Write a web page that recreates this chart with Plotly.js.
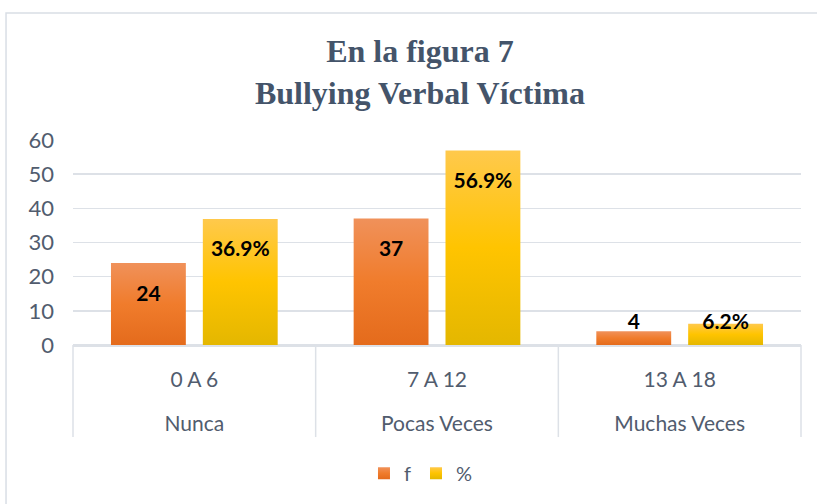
<!DOCTYPE html>
<html>
<head>
<meta charset="utf-8">
<script src="https://cdn.plot.ly/plotly-3.0.1.min.js"></script>
<style>html,body{margin:0;padding:0;background:#fff;}#chart{width:817px;height:504px;}</style>
</head>
<body>
<div id="chart"></div>
<script>
// Data
const outerLabels = ["Nunca", "Pocas Veces", "Muchas Veces"];
const innerLabels = ["0 A 6", "7 A 12", "13 A 18"];
const fValues = [24, 37, 4];
const pctValues = [36.9, 56.9, 6.2];
const seriesNames = ["f", "%"];

const axisColor = "#515C6E";
const gridColor = "#DDE1E7";

const labelFont = {family: "Lato", size: 21, color: "#000", weight: "bold"};

const traces = [
  {
    type: "bar",
    name: seriesNames[0],
    x: [outerLabels, innerLabels],
    y: fValues,
    marker: {color: "#EE7D31"},
    texttemplate: "%{y}",
    textposition: "auto",
    insidetextanchor: "end",
    textfont: labelFont,
    cliponaxis: false
  },
  {
    type: "bar",
    name: seriesNames[1],
    x: [outerLabels, innerLabels],
    y: pctValues,
    marker: {color: "#FFC000"},
    texttemplate: "%{y:.1f}%",
    textposition: "auto",
    insidetextanchor: "end",
    textfont: labelFont,
    cliponaxis: false
  }
];

const layout = {
  width: 817, height: 504,
  margin: {l: 73, r: 16, t: 140, b: 159},
  paper_bgcolor: "#fff", plot_bgcolor: "#fff",
  font: {family: "Lato", color: axisColor},
  title: {
    text: "En la figura 7<br>Bullying Verbal Víctima",
    font: {family: "Liberation Serif", size: 32, color: "#44546A", weight: "bold"},
    x: 0.514, xanchor: "center", y: 0.876, yanchor: "middle", yref: "container"
  },
  barmode: "group",
  bargap: 0.243,
  bargroupgap: 0.185,
  showlegend: true,
  legend: {
    orientation: "h", x: 0.478, xanchor: "center", y: -0.625, yanchor: "middle",
    font: {family: "Lato", size: 20, color: axisColor}, traceorder: "normal",
    itemwidth: 30
  },
  xaxis: {
    type: "multicategory",
    showdividers: false,
    showline: true, linecolor: gridColor, linewidth: 1.5,
    tickfont: {family: "Lato", size: 21, color: axisColor},
    ticks: "outside", ticklen: 17, tickcolor: "rgba(0,0,0,0)",
    ticklabelstandoff: 15,
    showgrid: false, zeroline: false
  },
  yaxis: {
    range: [0, 60], dtick: 10, tick0: 0,
    showgrid: true, gridcolor: gridColor, gridwidth: 1.5,
    zeroline: true, zerolinecolor: gridColor, zerolinewidth: 1.5,
    tickfont: {family: "Lato", size: 22, color: axisColor},
    ticks: "", ticklabelstandoff: 18, showline: false
  },
  shapes: [
    {type: "rect", xref: "paper", yref: "paper", x0: -0.092, x1: 1.2, y0: -1.5, y1: 1.62,
     line: {color: "#D9DEE5", width: 1.5}, fillcolor: "rgba(0,0,0,0)", layer: "below"}
  ].concat([0, 1, 2, 3].map(function (k) {
    // category group dividers at the boundaries of the three equal category bands
    return {type: "line", xref: "paper", yref: "paper", x0: k / 3, x1: k / 3, y0: 0, y1: -0.449,
            line: {color: gridColor, width: 1.5}};
  }))
};

Plotly.newPlot("chart", traces, layout, {staticPlot: true}).then(function (gd) {
  const svg = gd.querySelector("svg.main-svg");
  const ns = "http://www.w3.org/2000/svg";
  const defs = document.createElementNS(ns, "defs");
  const grads = [
    {id: "gradF", stops: [["0%", "#F0915A"], ["50%", "#F07C2C"], ["100%", "#E46B1C"]]},
    {id: "gradP", stops: [["0%", "#FFC94C"], ["50%", "#FFC400"], ["100%", "#E4B700"]]}
  ];
  grads.forEach(function (g) {
    const lg = document.createElementNS(ns, "linearGradient");
    lg.setAttribute("id", g.id);
    lg.setAttribute("x1", "0"); lg.setAttribute("y1", "0");
    lg.setAttribute("x2", "0"); lg.setAttribute("y2", "1");
    g.stops.forEach(function (s) {
      const st = document.createElementNS(ns, "stop");
      st.setAttribute("offset", s[0]);
      st.setAttribute("stop-color", s[1]);
      lg.appendChild(st);
    });
    defs.appendChild(lg);
  });
  svg.insertBefore(defs, svg.firstChild);

  gd.querySelectorAll(".barlayer .trace.bars").forEach(function (t, i) {
    t.querySelectorAll(".point").forEach(function (pt) {
      const path = pt.querySelector("path");
      const txt = pt.querySelector("text");
      if (path) path.style.fill = "url(#" + grads[i].id + ")";
      if (path && txt) {
        const pb = path.getBoundingClientRect();
        const tb = txt.getBoundingClientRect();
        const cy = tb.top + tb.height / 2;
        // Excel-style "inside end": label sits a little lower inside the bar;
        // for short bars it rests just above the baseline
        const target = (cy > pb.top) ? pb.top + 29 : pb.bottom - 25;
        const dy = target - cy;
        txt.setAttribute("transform", "translate(0," + dy + ") " + (txt.getAttribute("transform") || ""));
      }
    });
  });
  gd.querySelectorAll(".legend .traces").forEach(function (t, i) {
    t.querySelectorAll(".legendpoints path").forEach(function (p) {
      p.style.fill = "url(#" + grads[i].id + ")";
    });
  });
  // second level category labels sit lower, as in the original
  gd.querySelectorAll(".xtick2").forEach(function (g) {
    g.setAttribute("transform", "translate(0,32) " + (g.getAttribute("transform") || ""));
  });
});
</script>
</body>
</html>
